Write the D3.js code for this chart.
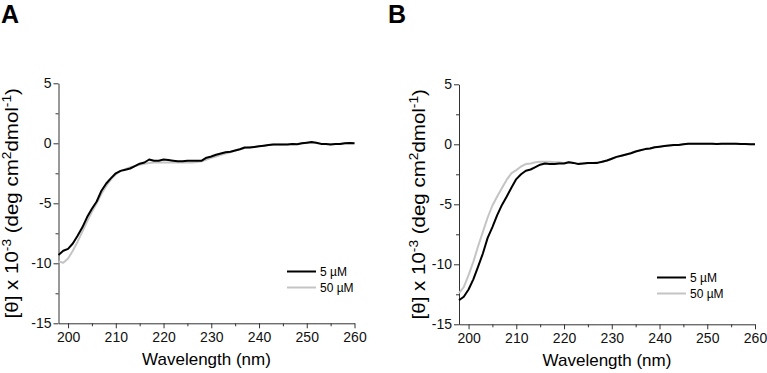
<!DOCTYPE html>
<html>
<head>
<meta charset="utf-8">
<script src="https://cdn.jsdelivr.net/npm/d3@7"></script>
<style>
  body { margin: 0; background: #fff; }
  svg { display: block; font-family: "Liberation Sans", Arial, sans-serif; }
</style>
</head>
<body>
<div id="chart"></div>
<script>
// wavelengths (nm), one point per nm
let wavelength = [198, 199, 200, 201, 202, 203, 204, 205, 206, 207, 208, 209, 210,
  211, 212, 213, 214, 215, 216, 217, 218, 219, 220, 221, 222, 223, 224, 225, 226,
  227, 228, 229, 230, 231, 232, 233, 234, 235, 236, 237, 238, 239, 240, 241, 242,
  243, 244, 245, 246, 247, 248, 249, 250, 251, 252, 253, 254, 255, 256, 257, 258,
  259, 260];

// panel A, [theta] x 10^-3
let a5uM = [-9.3, -8.95, -8.8, -8.35, -7.7, -7.0, -6.15, -5.45, -4.85, -3.95, -3.35, -2.9, -2.5,
  -2.3, -2.2, -2.1, -1.9, -1.7, -1.6, -1.35, -1.45, -1.45, -1.35, -1.4, -1.45, -1.5, -1.5, -1.45, -1.45,
  -1.45, -1.45, -1.2, -1.1, -0.95, -0.85, -0.75, -0.7, -0.6, -0.5, -0.35, -0.35, -0.3, -0.25, -0.2, -0.15,
  -0.1, -0.1, -0.1, -0.1, -0.05, -0.08, 0, 0.05, 0.1, 0.05, -0.05, -0.05, -0.1, -0.05, -0.05, 0,
  0.02, 0];
let a50uM = [-9.85, -9.95, -9.6, -8.95, -8.2, -7.35, -6.5, -5.7, -5.0, -4.2, -3.55, -3.0, -2.6,
  -2.3, -2.15, -2.0, -1.9, -1.8, -1.7, -1.65, -1.6, -1.6, -1.6, -1.6, -1.6, -1.6, -1.6, -1.6, -1.6,
  -1.55, -1.5, -1.35, -1.2, -1.1, -0.95, -0.85, -0.75, -0.6, -0.5, -0.4, -0.35, -0.3, -0.25, -0.2, -0.15,
  -0.1, -0.1, -0.1, -0.08, -0.05, -0.05, 0, 0.03, 0.05, 0.03, -0.03, -0.05, -0.08, -0.05, -0.03, 0,
  0, 0];

// panel B
let b5uM = [-13.0, -12.7, -12.1, -11.25, -10.2, -9.1, -7.8, -6.9, -5.9, -5.05, -4.35, -3.6, -2.9,
  -2.5, -2.2, -2.1, -1.9, -1.7, -1.6, -1.65, -1.65, -1.6, -1.6, -1.5, -1.55, -1.65, -1.6, -1.55, -1.55,
  -1.55, -1.45, -1.35, -1.2, -1.05, -0.95, -0.85, -0.75, -0.6, -0.5, -0.4, -0.35, -0.25, -0.2, -0.15, -0.1,
  -0.05, -0.05, 0, 0.05, 0.05, 0.05, 0.05, 0.05, 0.05, 0.03, 0.05, 0.05, 0.05, 0.05, 0.03, 0.03,
  0, 0];
let b50uM = [-12.4, -11.9, -10.9, -9.8, -8.5, -7.3, -6.1, -5.1, -4.35, -3.65, -2.95, -2.4, -2.15,
  -1.85, -1.65, -1.6, -1.5, -1.45, -1.45, -1.45, -1.5, -1.5, -1.55, -1.5, -1.55, -1.6, -1.6, -1.55, -1.55,
  -1.5, -1.45, -1.35, -1.2, -1.05, -0.95, -0.85, -0.75, -0.6, -0.5, -0.4, -0.35, -0.25, -0.2, -0.15, -0.1,
  -0.05, -0.05, 0, 0.05, 0.05, 0.05, 0.05, 0.05, 0.05, 0.03, 0.05, 0.05, 0.05, 0.05, 0.03, 0.03,
  0, 0];

let seriesNames = ["5 \u00b5M", "50 \u00b5M"];
let seriesColors = ["#000000", "#c4c4c4"];
let xTicks = [200, 210, 220, 230, 240, 250, 260];
let xMinorTicks = [205, 215, 225, 235, 245, 255];
let yTicks = [5, 0, -5, -10, -15];
let yMinorTicks = [2.5, -2.5, -7.5, -12.5];

let svgWidth = 767, svgHeight = 373;

let svg = d3.select("#chart").append("svg")
    .attr("width", svgWidth)
    .attr("height", svgHeight);

// panel configs: left edge of plot, top (y=5), legend spot
let panels = [
  {label: "A", labelX: 1, left: 58.5, top: 83.3, titleX: 18, legendX: 287, legendY: 271.5, series: [a5uM, a50uM]},
  {label: "B", labelX: 388, left: 459, top: 84.3, titleX: 425, legendX: 657, legendY: 277.5, series: [b5uM, b50uM]}
];
let plotWidth = 296, plotHeight = 240;

panels.forEach(p => drawPanel(p));

function drawPanel(p) {
    // panel letter
    svg.append("text")
        .attr("x", p.labelX)
        .attr("y", 23)
        .style("font-size", "25px")
        .style("font-weight", "bold")
        .text(p.label);

    let g = svg.append("g")
        .attr("transform", "translate(" + p.left + "," + p.top + ")");

    let x = d3.scaleLinear().domain([198, 260]).range([0, plotWidth]);
    let y = d3.scaleLinear().domain([-15, 5]).range([plotHeight, 0]);

    // minor ticks first, no labels
    g.append("g")
        .attr("transform", "translate(0," + plotHeight + ")")
        .call(d3.axisBottom(x).tickValues(xMinorTicks).tickSize(3).tickSizeOuter(0).tickFormat(""))
        .call(ax => ax.select(".domain").remove());
    g.append("g")
        .call(d3.axisLeft(y).tickValues(yMinorTicks).tickSize(3).tickSizeOuter(0).tickFormat(""))
        .call(ax => ax.select(".domain").remove());

    // major axes
    let xAxis = g.append("g")
        .attr("transform", "translate(0," + plotHeight + ")")
        .call(d3.axisBottom(x).tickValues(xTicks).tickSize(5).tickSizeOuter(0).tickPadding(4));
    let yAxis = g.append("g")
        .call(d3.axisLeft(y).tickValues(yTicks).tickSize(5).tickSizeOuter(0).tickPadding(2)
            .tickFormat(d => d));

    [xAxis, yAxis].forEach(ax => {
        ax.selectAll("text").style("font-size", "14px").attr("fill", "#111")
            .style("font-family", "'Liberation Sans', Arial, sans-serif");
    });
    g.selectAll(".domain, .tick line").attr("stroke", "#333");

    // lines
    let line = d3.line()
        .x(d => x(d[0]))
        .y(d => y(d[1]));

    // draw grey first so black sits on top
    [1, 0].forEach(i => {
        let pts = wavelength.map((w, k) => [w, p.series[i][k]]);
        g.append("path")
            .datum(pts)
            .attr("fill", "none")
            .attr("stroke", seriesColors[i])
            .attr("stroke-width", 2)
            .attr("stroke-linejoin", "round")
            .attr("d", line);
    });

    // x title
    g.append("text")
        .attr("x", plotWidth / 2)
        .attr("y", plotHeight + 42)
        .attr("text-anchor", "middle")
        .style("font-size", "17px")
        .text("Wavelength (nm)");

    // y title with superscripts (stretched a bit along its length like the original)
    let yt = svg.append("text")
        .attr("transform", "translate(" + p.titleX + "," + (p.top + plotHeight / 2) + ") rotate(-90) scale(1.14,1)")
        .attr("text-anchor", "middle")
        .style("font-size", "18px");
    yt.append("tspan").text("[\u03b8] x 10");
    yt.append("tspan").attr("dy", -7).style("font-size", "12px").text("-3");
    yt.append("tspan").attr("dy", 7).text(" (deg cm");
    yt.append("tspan").attr("dy", -7).style("font-size", "12px").text("2");
    yt.append("tspan").attr("dy", 7).text("dmol");
    yt.append("tspan").attr("dy", -7).style("font-size", "12px").text("-1");
    yt.append("tspan").attr("dy", 7).text(")");

    // legend
    seriesNames.forEach((name, i) => {
        let ly = p.legendY + i * 16;
        svg.append("line")
            .attr("x1", p.legendX).attr("x2", p.legendX + 29)
            .attr("y1", ly).attr("y2", ly)
            .attr("stroke", seriesColors[i])
            .attr("stroke-width", 2);
        svg.append("text")
            .attr("x", p.legendX + 33)
            .attr("y", ly + 4.5)
            .style("font-size", "12px")
            .text(name);
    });
}
</script>
</body>
</html>
